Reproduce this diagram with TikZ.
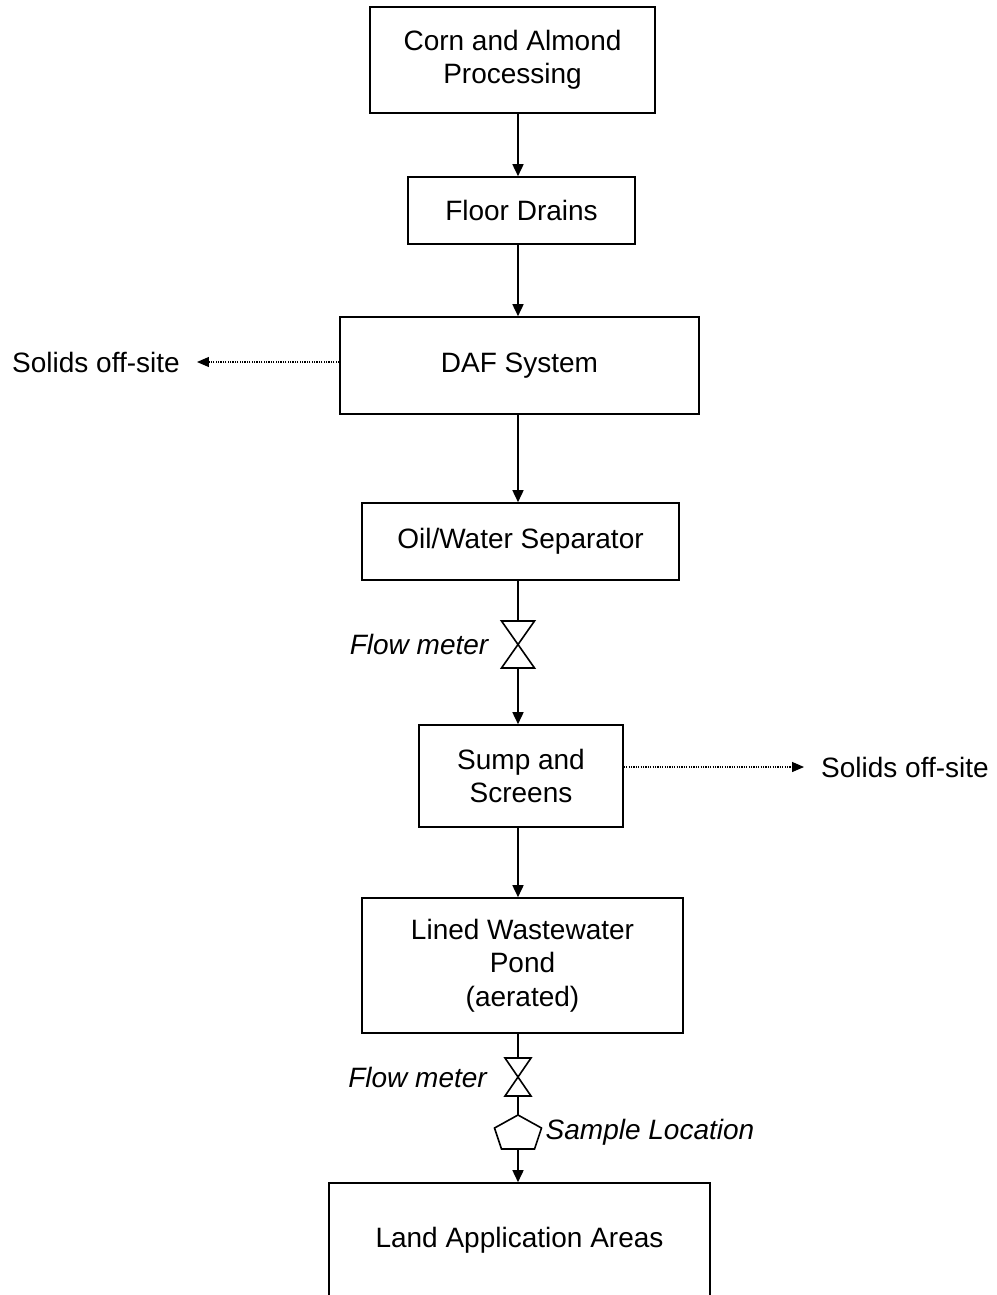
\documentclass[tikz,border=0pt]{standalone}
\usepackage{fontspec}
\setmainfont{Liberation Sans}
\usetikzlibrary{arrows.meta,positioning}

\tikzset{
	stage/.style={shape=rectangle, draw=black, line width=1.6pt, align=center, inner sep=0pt},
	flow/.style={-{Triangle[length=12pt,width=11pt]}, line width=1.6pt},
	pipe/.style={-, line width=1.6pt},
	offsite/.style={-{Triangle[length=12pt,width=10pt]}, line width=1.2pt, dash pattern=on 1.2pt off 1.2pt},
	meter/.style={shape=rectangle, inner sep=0pt, outer sep=0pt},
	note/.style={font=\fontsize{28}{33.5}\selectfont\itshape, inner sep=0pt},
	solids/.style={inner xsep=17pt, inner ysep=0pt},
}

\begin{document}
\begin{tikzpicture}[x=1pt, y=-1pt, font=\fontsize{28}{33.5}\selectfont]
	\useasboundingbox (0,0) rectangle (996,1295);
	\coordinate (spine) at (518,0);

	\node[stage, minimum width=285pt, minimum height=106pt]  (corn) at (512.5,60)    {Corn and Almond\\Processing};
	\node[stage, minimum width=227pt, minimum height=67pt]   (fd)   at (521.5,210.5) {Floor Drains};
	\node[stage, minimum width=359pt, minimum height=97pt]   (daf)  at (519.5,365.5) {DAF System};
	\node[stage, minimum width=317pt, minimum height=77pt]   (ows)  at (520.5,541.5) {Oil/Water Separator};
	\node[stage, minimum width=204pt, minimum height=102pt]  (sump) at (521,776)     {Sump and\\Screens};
	\node[stage, minimum width=321pt, minimum height=135pt]  (pond) at (522.5,965.5) {Lined Wastewater\\Pond\\(aerated)};
	\node[stage, minimum width=381pt, minimum height=114pt]  (land) at (519.5,1240)  {Land Application Areas};

	\node[meter, minimum width=33pt, minimum height=47pt]    (fm1)  at (518,644.5)   {};
	\node[meter, minimum width=26pt, minimum height=38pt]    (fm2)  at (518,1077)    {};
	\node[meter, minimum width=47pt, minimum height=34pt]    (sl)   at (518,1132)    {};

	\node[note, left=13pt of fm1]                            (fm1label)              {Flow meter};
	\node[note, left=18pt of fm2]                            (fm2label)              {Flow meter};
	\node[note, right=4pt of sl]                             (sllabel)               {Sample Location};

	\node[solids]                                            (solidsL) at (96,362)   {Solids off-site};
	\node[solids]                                            (solidsR) at (905,767)  {Solids off-site};

	\draw[pipe] (fm1.north west) -- (fm1.north east) -- (fm1.south west) -- (fm1.south east) -- cycle;
	\draw[pipe] (fm2.north west) -- (fm2.north east) -- (fm2.south west) -- (fm2.south east) -- cycle;
	\draw[pipe] (sl.north) -- ([yshift=-13pt]sl.north east) -- ([xshift=-7pt]sl.south east)
		-- ([xshift=7pt]sl.south west) -- ([yshift=-13pt]sl.north west) -- cycle;

	\path [flow]    (corn.south -| spine) edge (fd.north -| spine);
	\path [flow]    (fd.south -| spine)   edge (daf.north -| spine);
	\path [flow]    (daf.south -| spine)  edge (ows.north -| spine);
	\path [pipe]    (ows.south -| spine)  edge (fm1.north);
	\path [flow]    (fm1.south)           edge (sump.north -| spine);
	\path [flow]    (sump.south -| spine) edge (pond.north -| spine);
	\path [pipe]    (pond.south -| spine) edge (fm2.north);
	\path [pipe]    (fm2.south)           edge (sl.north);
	\path [flow]    (sl.south)            edge (land.north -| spine);
	\path [offsite] (daf.west |- solidsL) edge (solidsL.east);
	\path [offsite] (sump.east |- solidsR) edge (solidsR.west);
\end{tikzpicture}
\end{document}
